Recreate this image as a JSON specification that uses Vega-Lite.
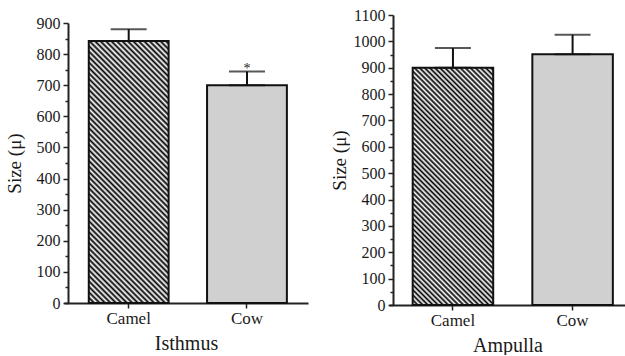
{
  "$schema": "https://vega.github.io/schema/vega-lite/v6.json",
  "padding": {"left": 5, "top": 7, "right": 0, "bottom": 0},
  "spacing": 22,
  "config": {
    "view": {"stroke": null},
    "font": "Liberation Serif",
    "axis": {"domainColor": "#222", "domainWidth": 2, "tickColor": "#222", "tickWidth": 1.5, "labelColor": "#1a1a1a", "titleColor": "#1a1a1a", "labelFont": "Liberation Serif", "titleFont": "Liberation Serif", "titleFontWeight": "normal", "grid": false, "labelOverlap": false, "labelFlush": false},
    "axisY": {"offset": -4, "labelFontSize": 16, "titleFontSize": 19, "labelPadding": 3},
    "axisX": {"labelAngle": 0, "labelFontSize": 17, "titleFontSize": 20, "tickSize": 5, "labelPadding": 2, "titlePadding": 7}
  },
  "datasets": {
    "isthmus": [
      {"animal": "Camel", "size": 842, "upper": 880, "sig": ""},
      {"animal": "Cow", "size": 700, "upper": 744, "sig": "*"}
    ],
    "ampulla": [
      {"animal": "Camel", "size": 900, "upper": 975},
      {"animal": "Cow", "size": 951, "upper": 1025}
    ]
  },
  "hconcat": [
    {
      "width": 244,
      "height": 288,
      "data": {"name": "isthmus"},
      "encoding": {
        "x": {"field": "animal", "type": "nominal", "sort": null, "scale": {"paddingInner": 0.325, "paddingOuter": 0.194, "align": 0.54}, "axis": {"title": "Isthmus"}},
        "y": {"field": "size", "type": "quantitative", "scale": {"domain": [0, 900], "range": [288, 8]}, "axis": {"title": "Size (μ)", "titlePadding": 12, "format": "d", "labelFont": "Liberation Serif", "labelFontSize": 16, "labelOverlap": false, "values": [0,50,100,150,200,250,300,350,400,450,500,550,600,650,700,750,800,850,900], "labelExpr": "datum.value % 100 === 0 ? datum.label : ''", "tickSize": {"condition": {"test": "datum.value % 100 === 0", "value": 5}, "value": 3}}}
      },
      "layer": [
        {
          "mark": {"type": "bar", "stroke": "#111", "strokeWidth": 2},
          "encoding": {
            "fill": {"condition": {"test": "datum.animal === 'Camel'", "value": {"gradient": "linear", "x1": 0, "y1": 1, "x2": 0.3646, "y2": -0.194, "stops": [{"offset":0,"color":"#000"},{"offset":0.008,"color":"#fff"},{"offset":0.016,"color":"#000"},{"offset":0.024,"color":"#fff"},{"offset":0.032,"color":"#000"},{"offset":0.04,"color":"#fff"},{"offset":0.048,"color":"#000"},{"offset":0.056,"color":"#fff"},{"offset":0.064,"color":"#000"},{"offset":0.072,"color":"#fff"},{"offset":0.08,"color":"#000"},{"offset":0.088,"color":"#fff"},{"offset":0.096,"color":"#000"},{"offset":0.104,"color":"#fff"},{"offset":0.112,"color":"#000"},{"offset":0.12,"color":"#fff"},{"offset":0.128,"color":"#000"},{"offset":0.136,"color":"#fff"},{"offset":0.144,"color":"#000"},{"offset":0.152,"color":"#fff"},{"offset":0.16,"color":"#000"},{"offset":0.168,"color":"#fff"},{"offset":0.176,"color":"#000"},{"offset":0.184,"color":"#fff"},{"offset":0.192,"color":"#000"},{"offset":0.2,"color":"#fff"},{"offset":0.208,"color":"#000"},{"offset":0.216,"color":"#fff"},{"offset":0.224,"color":"#000"},{"offset":0.232,"color":"#fff"},{"offset":0.24,"color":"#000"},{"offset":0.248,"color":"#fff"},{"offset":0.256,"color":"#000"},{"offset":0.264,"color":"#fff"},{"offset":0.272,"color":"#000"},{"offset":0.28,"color":"#fff"},{"offset":0.288,"color":"#000"},{"offset":0.296,"color":"#fff"},{"offset":0.304,"color":"#000"},{"offset":0.312,"color":"#fff"},{"offset":0.32,"color":"#000"},{"offset":0.328,"color":"#fff"},{"offset":0.336,"color":"#000"},{"offset":0.344,"color":"#fff"},{"offset":0.352,"color":"#000"},{"offset":0.36,"color":"#fff"},{"offset":0.368,"color":"#000"},{"offset":0.376,"color":"#fff"},{"offset":0.384,"color":"#000"},{"offset":0.392,"color":"#fff"},{"offset":0.4,"color":"#000"},{"offset":0.408,"color":"#fff"},{"offset":0.416,"color":"#000"},{"offset":0.424,"color":"#fff"},{"offset":0.432,"color":"#000"},{"offset":0.44,"color":"#fff"},{"offset":0.448,"color":"#000"},{"offset":0.456,"color":"#fff"},{"offset":0.464,"color":"#000"},{"offset":0.472,"color":"#fff"},{"offset":0.48,"color":"#000"},{"offset":0.488,"color":"#fff"},{"offset":0.496,"color":"#000"},{"offset":0.504,"color":"#fff"},{"offset":0.512,"color":"#000"},{"offset":0.52,"color":"#fff"},{"offset":0.528,"color":"#000"},{"offset":0.536,"color":"#fff"},{"offset":0.544,"color":"#000"},{"offset":0.552,"color":"#fff"},{"offset":0.56,"color":"#000"},{"offset":0.568,"color":"#fff"},{"offset":0.576,"color":"#000"},{"offset":0.584,"color":"#fff"},{"offset":0.592,"color":"#000"},{"offset":0.6,"color":"#fff"},{"offset":0.608,"color":"#000"},{"offset":0.616,"color":"#fff"},{"offset":0.624,"color":"#000"},{"offset":0.632,"color":"#fff"},{"offset":0.64,"color":"#000"},{"offset":0.648,"color":"#fff"},{"offset":0.656,"color":"#000"},{"offset":0.664,"color":"#fff"},{"offset":0.672,"color":"#000"},{"offset":0.68,"color":"#fff"},{"offset":0.688,"color":"#000"},{"offset":0.696,"color":"#fff"},{"offset":0.704,"color":"#000"},{"offset":0.712,"color":"#fff"},{"offset":0.72,"color":"#000"},{"offset":0.728,"color":"#fff"},{"offset":0.736,"color":"#000"},{"offset":0.744,"color":"#fff"},{"offset":0.752,"color":"#000"},{"offset":0.76,"color":"#fff"},{"offset":0.768,"color":"#000"},{"offset":0.776,"color":"#fff"},{"offset":0.784,"color":"#000"},{"offset":0.792,"color":"#fff"},{"offset":0.8,"color":"#000"},{"offset":0.808,"color":"#fff"},{"offset":0.816,"color":"#000"},{"offset":0.824,"color":"#fff"},{"offset":0.832,"color":"#000"},{"offset":0.84,"color":"#fff"},{"offset":0.848,"color":"#000"},{"offset":0.856,"color":"#fff"},{"offset":0.864,"color":"#000"},{"offset":0.872,"color":"#fff"},{"offset":0.88,"color":"#000"},{"offset":0.888,"color":"#fff"},{"offset":0.896,"color":"#000"},{"offset":0.904,"color":"#fff"},{"offset":0.912,"color":"#000"},{"offset":0.92,"color":"#fff"},{"offset":0.928,"color":"#000"},{"offset":0.936,"color":"#fff"},{"offset":0.944,"color":"#000"},{"offset":0.952,"color":"#fff"},{"offset":0.96,"color":"#000"},{"offset":0.968,"color":"#fff"},{"offset":0.976,"color":"#000"},{"offset":0.984,"color":"#fff"},{"offset":0.992,"color":"#000"},{"offset":1,"color":"#fff"}]}}, "value": "#d0d0d0"}
          }
        },
        {
          "mark": {"type": "errorbar", "ticks": {"size": 36, "thickness": 2, "color": "#111"}, "rule": {"strokeWidth": 2, "color": "#111"}},
          "encoding": {"y2": {"field": "upper"}}
        },
        {
          "mark": {"type": "text", "fontSize": 14, "dy": -12.7, "baseline": "alphabetic", "fill": "#222"},
          "encoding": {"text": {"field": "sig"}}
        }
      ]
    },
    {
      "width": 237,
      "height": 290,
      "data": {"name": "ampulla"},
      "encoding": {
        "x": {"field": "animal", "type": "nominal", "sort": null, "scale": {"paddingInner": 0.327, "paddingOuter": 0.1539, "align": 0.643}, "axis": {"title": "Ampulla"}},
        "y": {"field": "size", "type": "quantitative", "scale": {"domain": [0, 1100]}, "axis": {"title": "Size (μ)", "titlePadding": 4, "format": "d", "labelFont": "Liberation Serif", "labelFontSize": 16, "labelOverlap": false, "values": [0,50,100,150,200,250,300,350,400,450,500,550,600,650,700,750,800,850,900,950,1000,1050,1100], "labelExpr": "datum.value % 100 === 0 ? datum.label : ''", "tickSize": {"condition": {"test": "datum.value % 100 === 0", "value": 5}, "value": 3}}}
      },
      "layer": [
        {
          "mark": {"type": "bar", "stroke": "#111", "strokeWidth": 2},
          "encoding": {
            "fill": {"condition": {"test": "datum.animal === 'Camel'", "value": {"gradient": "linear", "x1": 0, "y1": 1, "x2": 0.4075, "y2": -0.201, "stops": [{"offset":0,"color":"#000"},{"offset":0.008,"color":"#fff"},{"offset":0.016,"color":"#000"},{"offset":0.024,"color":"#fff"},{"offset":0.032,"color":"#000"},{"offset":0.04,"color":"#fff"},{"offset":0.048,"color":"#000"},{"offset":0.056,"color":"#fff"},{"offset":0.064,"color":"#000"},{"offset":0.072,"color":"#fff"},{"offset":0.08,"color":"#000"},{"offset":0.088,"color":"#fff"},{"offset":0.096,"color":"#000"},{"offset":0.104,"color":"#fff"},{"offset":0.112,"color":"#000"},{"offset":0.12,"color":"#fff"},{"offset":0.128,"color":"#000"},{"offset":0.136,"color":"#fff"},{"offset":0.144,"color":"#000"},{"offset":0.152,"color":"#fff"},{"offset":0.16,"color":"#000"},{"offset":0.168,"color":"#fff"},{"offset":0.176,"color":"#000"},{"offset":0.184,"color":"#fff"},{"offset":0.192,"color":"#000"},{"offset":0.2,"color":"#fff"},{"offset":0.208,"color":"#000"},{"offset":0.216,"color":"#fff"},{"offset":0.224,"color":"#000"},{"offset":0.232,"color":"#fff"},{"offset":0.24,"color":"#000"},{"offset":0.248,"color":"#fff"},{"offset":0.256,"color":"#000"},{"offset":0.264,"color":"#fff"},{"offset":0.272,"color":"#000"},{"offset":0.28,"color":"#fff"},{"offset":0.288,"color":"#000"},{"offset":0.296,"color":"#fff"},{"offset":0.304,"color":"#000"},{"offset":0.312,"color":"#fff"},{"offset":0.32,"color":"#000"},{"offset":0.328,"color":"#fff"},{"offset":0.336,"color":"#000"},{"offset":0.344,"color":"#fff"},{"offset":0.352,"color":"#000"},{"offset":0.36,"color":"#fff"},{"offset":0.368,"color":"#000"},{"offset":0.376,"color":"#fff"},{"offset":0.384,"color":"#000"},{"offset":0.392,"color":"#fff"},{"offset":0.4,"color":"#000"},{"offset":0.408,"color":"#fff"},{"offset":0.416,"color":"#000"},{"offset":0.424,"color":"#fff"},{"offset":0.432,"color":"#000"},{"offset":0.44,"color":"#fff"},{"offset":0.448,"color":"#000"},{"offset":0.456,"color":"#fff"},{"offset":0.464,"color":"#000"},{"offset":0.472,"color":"#fff"},{"offset":0.48,"color":"#000"},{"offset":0.488,"color":"#fff"},{"offset":0.496,"color":"#000"},{"offset":0.504,"color":"#fff"},{"offset":0.512,"color":"#000"},{"offset":0.52,"color":"#fff"},{"offset":0.528,"color":"#000"},{"offset":0.536,"color":"#fff"},{"offset":0.544,"color":"#000"},{"offset":0.552,"color":"#fff"},{"offset":0.56,"color":"#000"},{"offset":0.568,"color":"#fff"},{"offset":0.576,"color":"#000"},{"offset":0.584,"color":"#fff"},{"offset":0.592,"color":"#000"},{"offset":0.6,"color":"#fff"},{"offset":0.608,"color":"#000"},{"offset":0.616,"color":"#fff"},{"offset":0.624,"color":"#000"},{"offset":0.632,"color":"#fff"},{"offset":0.64,"color":"#000"},{"offset":0.648,"color":"#fff"},{"offset":0.656,"color":"#000"},{"offset":0.664,"color":"#fff"},{"offset":0.672,"color":"#000"},{"offset":0.68,"color":"#fff"},{"offset":0.688,"color":"#000"},{"offset":0.696,"color":"#fff"},{"offset":0.704,"color":"#000"},{"offset":0.712,"color":"#fff"},{"offset":0.72,"color":"#000"},{"offset":0.728,"color":"#fff"},{"offset":0.736,"color":"#000"},{"offset":0.744,"color":"#fff"},{"offset":0.752,"color":"#000"},{"offset":0.76,"color":"#fff"},{"offset":0.768,"color":"#000"},{"offset":0.776,"color":"#fff"},{"offset":0.784,"color":"#000"},{"offset":0.792,"color":"#fff"},{"offset":0.8,"color":"#000"},{"offset":0.808,"color":"#fff"},{"offset":0.816,"color":"#000"},{"offset":0.824,"color":"#fff"},{"offset":0.832,"color":"#000"},{"offset":0.84,"color":"#fff"},{"offset":0.848,"color":"#000"},{"offset":0.856,"color":"#fff"},{"offset":0.864,"color":"#000"},{"offset":0.872,"color":"#fff"},{"offset":0.88,"color":"#000"},{"offset":0.888,"color":"#fff"},{"offset":0.896,"color":"#000"},{"offset":0.904,"color":"#fff"},{"offset":0.912,"color":"#000"},{"offset":0.92,"color":"#fff"},{"offset":0.928,"color":"#000"},{"offset":0.936,"color":"#fff"},{"offset":0.944,"color":"#000"},{"offset":0.952,"color":"#fff"},{"offset":0.96,"color":"#000"},{"offset":0.968,"color":"#fff"},{"offset":0.976,"color":"#000"},{"offset":0.984,"color":"#fff"},{"offset":0.992,"color":"#000"},{"offset":1,"color":"#fff"}]}}, "value": "#d0d0d0"}
          }
        },
        {
          "mark": {"type": "errorbar", "ticks": {"size": 36, "thickness": 2, "color": "#111"}, "rule": {"strokeWidth": 2, "color": "#111"}},
          "encoding": {"y2": {"field": "upper"}}
        }
      ]
    }
  ]
}
